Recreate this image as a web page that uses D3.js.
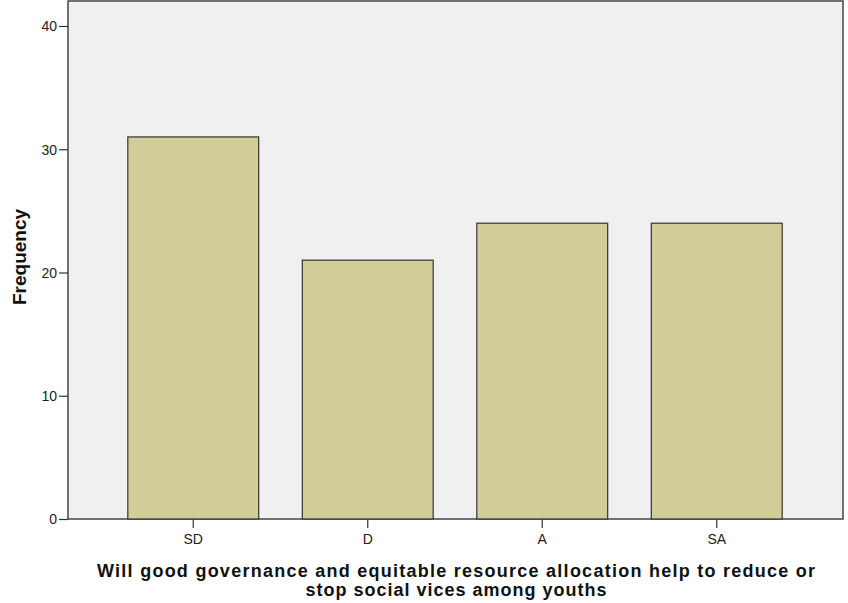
<!DOCTYPE html>
<html><head><meta charset="utf-8">
<script src="https://cdn.jsdelivr.net/npm/d3@7"></script>
<style>body{margin:0;background:#fff}svg{display:block}</style>
</head><body>
<script>
const categories = ["SD", "D", "A", "SA"];
const frequencies = [31, 21, 24, 24];
const yTicks = [0, 10, 20, 30, 40];
const xTitle = ["Will good governance and equitable resource allocation help to reduce or", "stop social vices among youths"];
const yTitle = "Frequency";

const W = 848, H = 603;
const FONT = "Arial, 'Liberation Sans', sans-serif";
const svg = d3.select("body").append("svg").attr("width", W).attr("height", H);
const plot = {left: 68, right: 843, top: 1, bottom: 519};

const y = d3.scaleLinear().domain([0, 40]).range([519, 26]);
const x = d3.scaleBand().domain(categories).range([106, 804]).paddingInner(0.25).paddingOuter(0.125);

svg.append("rect").attr("x", plot.left).attr("y", plot.top)
  .attr("width", plot.right - plot.left).attr("height", plot.bottom - plot.top)
  .attr("fill", "#f0f0f0").attr("stroke", "#444").attr("stroke-width", 1.5);

svg.selectAll("rect.bar").data(frequencies).join("rect").attr("class", "bar")
  .attr("x", (d, i) => x(categories[i])).attr("y", d => y(d))
  .attr("width", x.bandwidth()).attr("height", d => y(0) - y(d))
  .attr("fill", "#d3ce99").attr("stroke", "#333").attr("stroke-width", 1.2);

const yAxis = svg.append("g").attr("transform", `translate(${plot.left},0)`)
  .call(d3.axisLeft(y).tickValues(yTicks).tickSize(9).tickFormat(d3.format("d")));
yAxis.select(".domain").remove();
yAxis.selectAll("line").attr("stroke", "#333").attr("stroke-width", 1.2);
yAxis.selectAll("text").attr("font-family", FONT).attr("font-size", 14).attr("fill", "#222").attr("x", -11).attr("dy", "0.35em");

const xAxis = svg.append("g").attr("transform", `translate(0,${plot.bottom})`)
  .call(d3.axisBottom(x).tickSize(9));
xAxis.select(".domain").remove();
xAxis.selectAll("line").attr("stroke", "#333").attr("stroke-width", 1.2);
xAxis.selectAll("text").attr("font-family", FONT).attr("font-size", 14).attr("fill", "#222").attr("y", 25).attr("dy", 0);

svg.append("text").attr("transform", "translate(26,257) rotate(-90)")
  .attr("text-anchor", "middle").attr("font-family", FONT)
  .attr("font-size", 19).attr("font-weight", "bold").attr("fill", "#111").text(yTitle);

const title = svg.append("text").attr("text-anchor", "middle")
  .attr("font-family", FONT).attr("font-size", 18)
  .attr("font-weight", "bold").attr("fill", "#111");
title.append("tspan").attr("x", 456).attr("y", 577).attr("textLength", 718).attr("lengthAdjust", "spacing").text(xTitle[0]);
title.append("tspan").attr("x", 456).attr("y", 596).attr("textLength", 301).attr("lengthAdjust", "spacing").text(xTitle[1]);
</script>
</body></html>
